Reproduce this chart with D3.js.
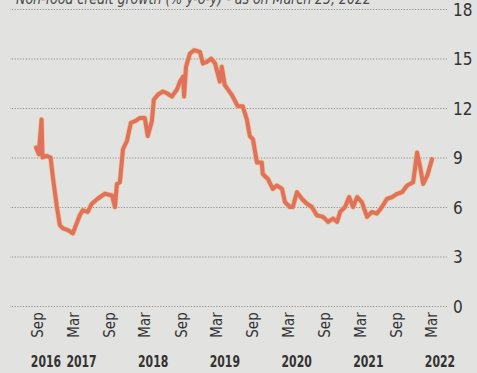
<!DOCTYPE html>
<html>
<head>
<meta charset="utf-8">
<script src="https://cdn.jsdelivr.net/npm/d3@7"></script>
<style>
  html, body { margin: 0; padding: 0; background: #e2e2e0; }
  svg { display: block; }
</style>
</head>
<body>
<div id="chart"></div>
<script>
const width = 477, height = 373;

// fortnightly non-food credit growth, % y-o-y
const dates = [
  '2016-08-22','2016-09-05','2016-09-19','2016-09-24','2016-10-14','2016-11-04','2016-11-17','2016-12-05',
  '2016-12-21','2017-01-06','2017-02-01','2017-02-25','2017-04-02','2017-04-17','2017-05-12','2017-06-02',
  '2017-07-02','2017-08-07','2017-09-13','2017-09-28','2017-10-08','2017-10-23','2017-11-08','2017-11-28',
  '2017-12-18','2018-01-08','2018-02-03','2018-02-27','2018-03-14','2018-04-04','2018-04-14','2018-05-04',
  '2018-05-30','2018-06-19','2018-07-15','2018-08-09','2018-08-25','2018-09-10','2018-09-15','2018-09-25',
  '2018-10-15','2018-11-05','2018-12-05','2018-12-20','2019-01-10','2019-01-31','2019-02-20','2019-03-16',
  '2019-03-26','2019-04-10','2019-05-16','2019-06-16','2019-07-11','2019-08-01','2019-08-16','2019-09-01',
  '2019-09-21','2019-10-16','2019-10-21','2019-11-16','2019-12-11','2020-01-01','2020-01-27','2020-02-11',
  '2020-03-07','2020-03-22','2020-04-12','2020-05-07','2020-06-02','2020-06-27','2020-07-22','2020-08-23',
  '2020-09-18','2020-10-13','2020-11-03','2020-11-18','2020-12-13','2021-01-03','2021-01-23','2021-02-13',
  '2021-03-09','2021-04-04','2021-04-29','2021-05-24','2021-06-19','2021-07-15','2021-08-10','2021-09-05',
  '2021-09-30','2021-10-25','2021-11-25','2021-12-05','2021-12-15','2021-12-31','2022-01-15','2022-02-05',
  '2022-03-01'
];
const growth = [
  9.6, 9.2, 11.3, 9.0, 9.1, 9.0, 7.7, 6.1,
  4.9, 4.7, 4.6, 4.4, 5.5, 5.8, 5.7, 6.2,
  6.5, 6.8, 6.7, 6.0, 7.4, 7.5, 9.5, 10.0,
  11.1, 11.2, 11.4, 11.4, 10.3, 11.2, 12.5, 12.8,
  13.0, 12.9, 12.7, 13.1, 13.6, 13.9, 12.7, 14.5,
  15.3, 15.5, 15.4, 14.7, 14.8, 15.0, 14.7, 13.6,
  14.5, 13.4, 12.8, 12.1, 12.1, 11.3, 10.3, 10.1,
  8.7, 8.7, 8.0, 7.7, 7.1, 7.3, 7.1, 6.3,
  6.0, 6.0, 6.9, 6.5, 6.2, 6.0, 5.5, 5.4,
  5.1, 5.3, 5.1, 5.7, 6.0, 6.6, 6.0, 6.6,
  6.3, 5.4, 5.7, 5.6, 6.0, 6.5, 6.6, 6.8,
  6.9, 7.3, 7.5, 8.4, 9.3, 8.4, 7.4, 7.9,
  8.9
];

const yTicks = [0, 3, 6, 9, 12, 15, 18];
const monthTicks = ['2016-09-01','2017-03-01','2017-09-01','2018-03-01','2018-09-01','2019-03-01',
                    '2019-09-01','2020-03-01','2020-09-01','2021-03-01','2021-09-01','2022-03-01'];
const yearLabels = ['2016','2017','2018','2019','2020','2021','2022'];
const yearDates = ['2016-09-01','2017-03-01','2018-03-01','2019-03-01','2020-03-01','2021-03-01','2022-03-01'];
const title = 'Non-food credit growth (% y-o-y) - as on March 25, 2022';

const parse = d3.timeParse('%Y-%m-%d');
const fmtMonth = d3.timeFormat('%b');
const series = dates.map((d, i) => ({ date: parse(d), value: growth[i] }));

const font = '"DejaVu Sans Condensed","DejaVu Sans",sans-serif';

const svg = d3.select('#chart').append('svg')
  .attr('width', width).attr('height', height);

const x = d3.scaleTime()
  .domain([parse('2016-09-01'), parse('2022-03-01')])
  .range([38, 432]);
const y = d3.scaleLinear().domain([0, 18]).range([306, 9]);

/* Title, cut off by the top edge as in the print */
svg.append('text')
  .attr('x', 16).attr('y', 4)
  .attr('font-family', font).attr('font-style', 'italic')
  .attr('font-size', '16px').attr('fill', '#4a4a4a')
  .attr('textLength', 355).attr('lengthAdjust', 'spacingAndGlyphs')
  .text(title);

/* Grid + right labels */
svg.append('g')
  .attr('transform', 'translate(447,0)')
  .call(d3.axisRight(y).tickValues(yTicks).tickSize(-437).tickPadding(6))
  .call(ax => {
    ax.select('.domain').remove();
    ax.selectAll('.tick line')
      .attr('stroke', '#8e8e8e').attr('stroke-width', 1).attr('stroke-dasharray', '1.2,1.6');
    ax.selectAll('.tick text')
      .attr('font-family', font).attr('font-size', '17px').attr('fill', '#333')
      .attr('dy', '0.36em');
  });

/* Line: pale halo then the salmon stroke */
const line = d3.line().x(d => x(d.date)).y(d => y(d.value));
svg.append('path').datum(series)
  .attr('d', line).attr('fill', 'none')
  .attr('stroke', '#ecc58c').attr('stroke-width', 5.4)
  .attr('stroke-linejoin', 'round').attr('stroke-linecap', 'round');
svg.append('path').datum(series)
  .attr('d', line).attr('fill', 'none')
  .attr('stroke', '#e0715d').attr('stroke-width', 4)
  .attr('stroke-linejoin', 'round').attr('stroke-linecap', 'round');

/* Month labels, rotated */
svg.append('g').selectAll('text')
  .data(monthTicks).join('text')
  .attr('transform', d => `translate(${x(parse(d))},325) rotate(-90)`)
  .attr('text-anchor', 'middle').attr('dy', '0.35em')
  .attr('font-family', font).attr('font-size', '15px').attr('fill', '#333')
  .text(d => fmtMonth(parse(d)));

/* Year labels, squeezed to look condensed */
svg.append('g').selectAll('text')
  .data(yearLabels).join('text')
  .attr('transform', (d, i) => `translate(${x(parse(yearDates[i])) + 8},367) scale(0.68,1)`)
  .attr('text-anchor', 'middle')
  .attr('font-family', '"DejaVu Sans",sans-serif').attr('font-weight', 'bold')
  .attr('font-size', '16px').attr('fill', '#333')
  .text(d => d);
</script>
</body>
</html>
